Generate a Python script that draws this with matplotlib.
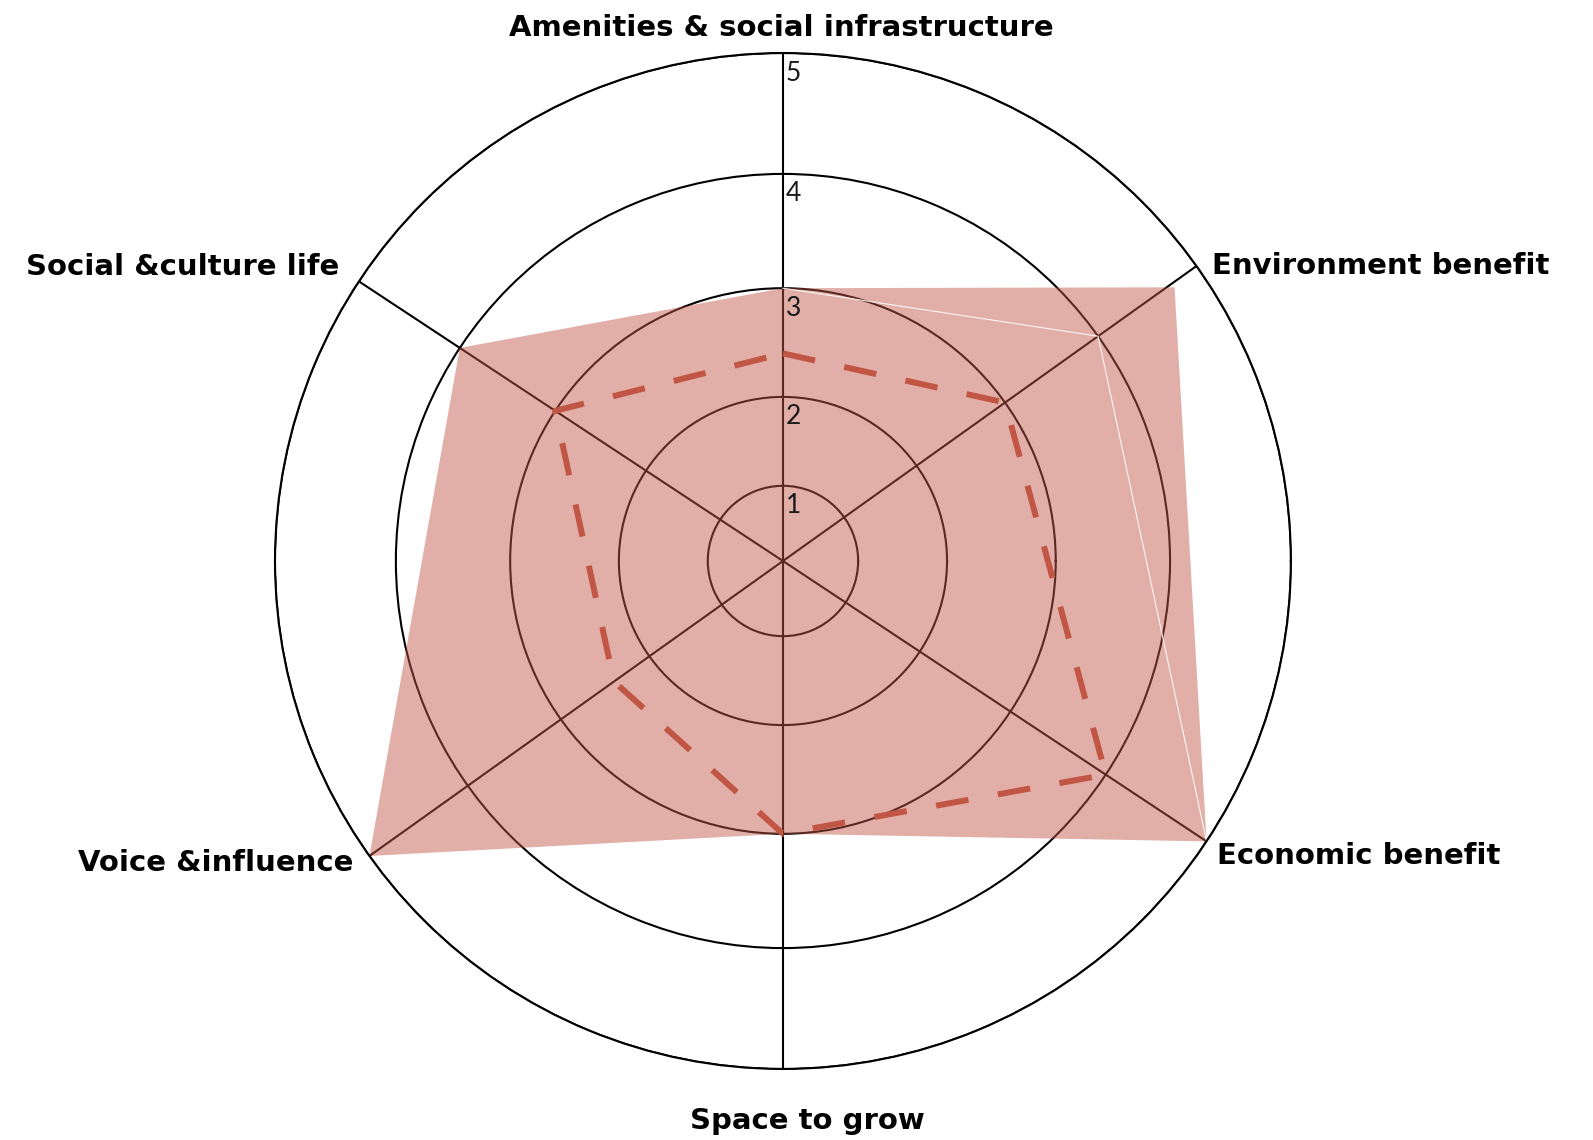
import numpy as np
import matplotlib
matplotlib.use("Agg")
import matplotlib.pyplot as plt

# categories and the angle (degrees) of each spoke
categories = ['Amenities & social infrastructure', 'Environment benefit', 'Economic benefit',
              'Space to grow', 'Voice &influence', 'Social &culture life']
angles_deg = [90, 35.5, 326.5, 270, 215.5, 146.6]

# filled area and dashed outline (scores 0-5)
filled_scores = [3, 4, 5, 3, 5, 4]
dashed_scores = [2.4, 3, 4, 3, 2.4, 3]

# extra corner of the filled shape, off the environment spoke
extra_angle_deg = 34.95
extra_score = 4.75

rticks = [1, 2, 3, 4, 5]
# the rings are not evenly spaced in the picture
ring_values = [0, 1, 2, 3, 4, 5]
ring_radii = [0, 0.148, 0.323, 0.537, 0.762, 1.0]

def fwd(v):
    return np.interp(v, ring_values, ring_radii)

def inv(r):
    return np.interp(r, ring_radii, ring_values)

color = '#c15645'
plt.rcParams['font.family'] = ['DejaVu Sans']

fig = plt.figure(figsize=(15.93, 11.40), dpi=100)
ax = fig.add_axes([0.1726, 0.0623, 0.6378, 0.8912], projection='polar')
ax.set_rscale('function', functions=(fwd, inv))

theta = np.deg2rad(angles_deg)

# data polygon
ax.fill(theta, filled_scores, color=color, alpha=0.47, linewidth=0)
# extra piece of the fill (top -> extra corner -> economic -> environment)
t_extra = [theta[0], np.deg2rad(extra_angle_deg), theta[2] - 2 * np.pi, theta[1]]
r_extra = [filled_scores[0], extra_score, filled_scores[2], filled_scores[1]]
ax.fill(t_extra, r_extra, color=color, alpha=0.47, linewidth=0)
ax.plot([theta[0], theta[1], theta[2] - 2 * np.pi], filled_scores[:3],
        color='white', linewidth=0.8, alpha=0.9)

# dashed outline
ax.plot(np.append(theta, theta[0] + 2 * np.pi), dashed_scores + dashed_scores[:1],
        color=color, linewidth=4.3, linestyle=(0, (5.5, 5)), zorder=3)

ax.set_xlim(0, 2 * np.pi)
ax.set_rlim(0, 5)
ax.set_rgrids(rticks, labels=[''] * len(rticks))
ax.set_thetagrids(angles_deg, labels=[''] * len(angles_deg))
ax.set_axisbelow(True)
ax.grid(True, color='black', linewidth=1.5)
ax.spines['polar'].set_linewidth(1.5)
ax.tick_params(length=0)

# radial tick labels along the top spoke
for v in rticks:
    ax.annotate(str(v), xy=(np.pi / 2, v), xytext=(3, -20), textcoords='offset pixels',
                ha='left', va='center', fontsize=19, family=['Lato', 'DejaVu Sans'],
                color='#1a1a1a', zorder=4)

# category labels
offsets = [(-2, 25), (15, 0), (10, -15), (24, -52), (-16, -7), (-20, 14)]
aligns = ['center', 'left', 'left', 'center', 'right', 'right']
for t, lab, off, ha in zip(theta, categories, offsets, aligns):
    ax.annotate(lab, xy=(t, 5), xytext=off, textcoords='offset pixels',
                ha=ha, va='center', fontsize=21, fontweight='bold', color='black',
                annotation_clip=False)

fig.savefig('out.png', dpi=100)
